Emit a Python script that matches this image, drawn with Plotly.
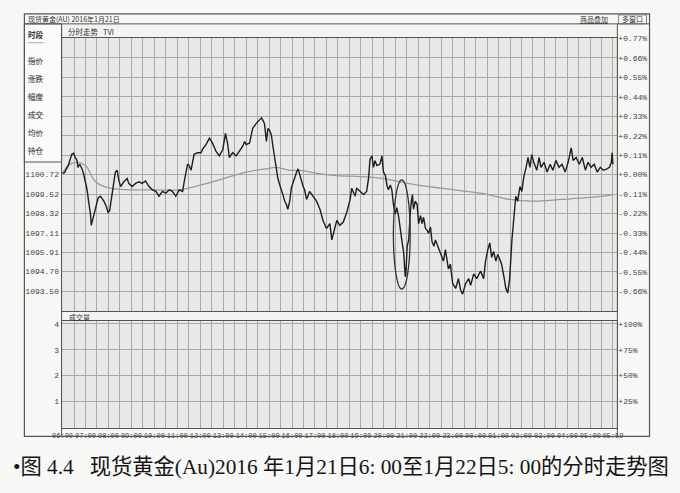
import plotly.graph_objects as go

W, H = 680, 493

# ---------------- data ----------------
minutes_since_0600 = [0, 5, 15, 24, 29, 33, 38, 40, 45, 51, 55, 60, 64, 68, 73, 75, 80, 86, 93, 99, 103, 108, 114, 119, 123, 128, 131, 138, 143, 147, 152, 160, 169, 173, 182, 191, 200, 208, 217, 226, 235, 244, 252, 261, 270, 279, 287, 296, 305, 314, 318, 322, 327, 331, 336, 344, 353, 362, 366, 375, 384, 392, 401, 410, 419, 426, 432, 436, 445, 454, 463, 471, 476, 480, 489, 493, 497, 506, 515, 520, 524, 528, 533, 537, 541, 546, 550, 555, 559, 563, 568, 572, 576, 581, 585, 589, 594, 598, 603, 612, 616, 620, 625, 629, 633, 638, 646, 655, 664, 673, 681, 690, 699, 704, 708, 712, 717, 725, 734, 743, 752, 756, 760, 765, 769, 778, 787, 795, 800, 804, 809, 813, 817, 822, 830, 835, 839, 844, 848, 852, 857, 861, 865, 870, 874, 879, 883, 887, 892, 894, 896, 898, 899, 901, 905, 907, 909, 912, 915, 916, 918, 922, 927, 931, 936, 940, 944, 949, 953, 957, 962, 966, 971, 975, 980, 988, 996, 1001, 1009, 1014, 1020, 1028, 1035, 1041, 1046, 1054, 1062, 1067, 1075, 1083, 1093, 1101, 1106, 1112, 1117, 1122, 1127, 1133, 1138, 1143, 1148, 1154, 1159, 1164, 1169, 1175, 1180, 1185, 1190, 1196, 1201, 1206, 1212, 1217, 1222, 1227, 1232, 1240, 1246, 1251, 1259, 1267, 1275, 1282, 1290, 1298, 1306, 1314, 1322, 1330, 1335, 1343, 1351, 1359, 1367, 1374, 1382, 1390, 1398, 1406, 1414, 1422, 1430, 1435, 1437, 1439]
price = [1100.80, 1100.84, 1101.30, 1101.99, 1102.05, 1101.79, 1101.61, 1101.17, 1101.37, 1101.08, 1100.78, 1100.28, 1099.80, 1099.07, 1098.27, 1097.57, 1098.07, 1098.67, 1099.27, 1099.38, 1099.27, 1099.07, 1098.77, 1098.37, 1098.47, 1099.27, 1099.98, 1100.88, 1100.99, 1100.38, 1099.98, 1100.28, 1100.48, 1100.18, 1099.98, 1100.18, 1100.28, 1100.18, 1100.33, 1099.98, 1099.78, 1099.68, 1099.38, 1099.68, 1099.57, 1099.78, 1099.68, 1099.38, 1099.78, 1099.68, 1100.28, 1100.88, 1101.38, 1101.29, 1101.00, 1101.99, 1102.09, 1102.09, 1102.29, 1102.59, 1102.99, 1102.69, 1102.19, 1101.89, 1102.29, 1103.29, 1102.59, 1101.79, 1102.09, 1101.89, 1102.19, 1102.49, 1102.79, 1102.59, 1102.69, 1103.29, 1103.60, 1103.90, 1104.10, 1104.26, 1104.10, 1103.90, 1102.79, 1103.60, 1103.49, 1103.19, 1102.49, 1101.79, 1101.29, 1100.48, 1100.08, 1099.68, 1099.48, 1099.07, 1098.88, 1098.57, 1099.07, 1099.88, 1100.28, 1100.88, 1101.08, 1100.68, 1100.18, 1099.98, 1099.78, 1099.18, 1099.68, 1099.38, 1099.07, 1098.57, 1097.87, 1097.37, 1097.67, 1096.66, 1097.07, 1097.37, 1097.87, 1097.57, 1097.77, 1098.37, 1099.18, 1099.88, 1099.68, 1099.38, 1099.88, 1099.68, 1099.48, 1099.68, 1100.48, 1101.69, 1101.89, 1101.18, 1101.59, 1101.29, 1101.38, 1101.89, 1100.88, 1100.68, 1100.08, 1099.78, 1100.08, 1099.78, 1098.88, 1098.27, 1098.67, 1098.07, 1097.26, 1096.66, 1095.86, 1094.85, 1094.37, 1094.73, 1095.15, 1096.26, 1096.66, 1097.67, 1098.27, 1099.07, 1099.48, 1098.97, 1098.57, 1099.07, 1098.88, 1097.67, 1098.17, 1097.67, 1098.07, 1097.37, 1097.26, 1097.07, 1097.46, 1096.56, 1096.26, 1096.66, 1096.36, 1095.76, 1095.34, 1096.06, 1094.85, 1095.15, 1093.95, 1093.65, 1094.25, 1093.53, 1093.29, 1093.95, 1094.25, 1093.83, 1094.55, 1094.25, 1094.73, 1094.25, 1095.34, 1096.06, 1096.48, 1095.58, 1095.94, 1095.34, 1095.76, 1095.46, 1095.15, 1094.37, 1093.65, 1093.35, 1094.25, 1096.66, 1098.17, 1099.38, 1099.07, 1099.98, 1099.68, 1100.58, 1101.18, 1101.79, 1101.18, 1101.97, 1101.49, 1101.00, 1101.79, 1101.18, 1101.49, 1100.88, 1101.37, 1101.00, 1101.61, 1101.18, 1101.37, 1100.88, 1101.49, 1102.39, 1101.61, 1101.79, 1101.37, 1101.79, 1101.00, 1101.49, 1101.18, 1101.37, 1100.88, 1101.18, 1101.00, 1101.06, 1101.18, 1101.49, 1102.09, 1101.37]

avg_minutes = [0, 15, 35, 60, 86, 123, 180, 240, 305, 392, 480, 533, 559, 594, 620, 673, 708, 795, 839, 901, 988, 1093, 1169, 1227, 1306, 1414, 1439]
avg_price = [1100.80, 1101.30, 1101.49, 1101.29, 1100.28, 1099.88, 1099.78, 1099.78, 1099.78, 1100.28, 1100.88, 1101.08, 1101.18, 1100.99, 1100.99, 1100.78, 1100.68, 1100.58, 1100.48, 1100.18, 1099.88, 1099.57, 1099.18, 1099.07, 1099.18, 1099.38, 1099.48]

base_price = 1100.72
time_labels = ["06:00", "07:00", "08:00", "09:00", "10:00", "11:00", "12:00", "13:00", "14:00", "15:00", "16:00", "17:00",
               "18:00", "19:00", "20:00", "21:00", "22:00", "23:00", "00:00", "01:00", "02:00", "03:00", "04:00", "05:00", "05:59"]
time_label_minutes = [0, 60, 120, 180, 240, 300, 360, 420, 480, 540, 600, 660, 720, 780, 840, 900, 960, 1020, 1080, 1140, 1200, 1260, 1320, 1380, 1439]
price_labels = ["1100.72", "1099.52", "1098.32", "1097.11", "1095.91", "1094.70", "1093.50"]
pct_values = [0.77, 0.66, 0.55, 0.44, 0.33, 0.22, 0.11, 0.00, -0.11, -0.22, -0.33, -0.44, -0.55, -0.66]
vol_ticks = [1, 2, 3, 4]
vol_pct_labels = ["+25%", "+50%", "+75%", "+100%"]
sidebar_items = ["时段", "指价", "涨跌", "幅度", "成交", "均价", "持仓"]
ellipse_minutes = (865, 909)
ellipse_prices = (1093.6, 1100.4)

# ---------------- helpers ----------------
# the photographed page shows a small horizontal offset/scale; compensate so marks land at target pixels
OFFX, SCX = 10.7, 0.973

def px(x):
    return ((x - OFFX) / SCX) / W

def py(y):
    return 1 - y / H

grid_col = "#a9a9a9"
frame_col = "#555555"
txt_col = "#333333"
mono = "Liberation Mono"
cjk = "Noto Sans CJK SC"

x_range = [-2.6, 1450.7]
p_range = [1092.23, 1109.24]
v_range = [-0.04, 4.11]

grid_vals, grid_text = [], []
for m in range(0, 1440, 30):
    grid_vals.append(m)
    grid_text.append(time_labels[m // 60] if m % 60 == 0 else "")
grid_vals.append(time_label_minutes[-1])
grid_text.append(time_labels[-1])

pct_text = [("+" if v >= 0 else "") + f"{v:.2f}%" for v in pct_values]
pct_price = [base_price * (1 + v / 100) for v in pct_values]

fig = go.Figure()
fig.add_trace(go.Scatter(x=avg_minutes, y=avg_price, mode="lines", line=dict(color="#9a9a9a", width=1.3, shape="spline"),
                         xaxis="x", yaxis="y", showlegend=False, hoverinfo="skip"))
fig.add_trace(go.Scatter(x=minutes_since_0600, y=price, mode="lines", line=dict(color="#1e1e1e", width=1.4),
                         xaxis="x", yaxis="y", showlegend=False))
fig.add_trace(go.Scatter(x=[None], y=[None], xaxis="x", yaxis="y3", showlegend=False, hoverinfo="skip"))
fig.add_trace(go.Scatter(x=[None], y=[None], xaxis="x2", yaxis="y2", showlegend=False, hoverinfo="skip"))
fig.add_trace(go.Scatter(x=[None], y=[None], xaxis="x2", yaxis="y4", showlegend=False, hoverinfo="skip"))

xdom = [px(63), px(616)]
main_dom = [py(310), py(35)]
vol_dom = [py(428), py(320)]

axis_common = dict(showline=True, linecolor=frame_col, linewidth=1, mirror=True, zeroline=False, ticks="")

fig.update_layout(
    width=W, height=H,
    margin=dict(l=0, r=0, t=0, b=0),
    paper_bgcolor="#f7f7f6",
    plot_bgcolor="#e8e8e6",
    showlegend=False,
    xaxis=dict(domain=xdom, range=x_range, anchor="y", tickmode="array", tickvals=grid_vals,
               showticklabels=False, showgrid=True, gridcolor=grid_col, gridwidth=1, **axis_common),
    yaxis=dict(domain=main_dom, range=p_range, anchor="x", tickmode="array",
               tickvals=[float(v) for v in price_labels], ticktext=price_labels, showgrid=False,
               tickfont=dict(family=mono, size=8, color="#444"), **axis_common),
    yaxis3=dict(overlaying="y", side="right", anchor="x", range=p_range, tickmode="array",
                tickvals=pct_price, ticktext=pct_text, showgrid=True, gridcolor=grid_col, gridwidth=1,
                tickfont=dict(family=mono, size=8, color="#444"), zeroline=False, ticks=""),
    xaxis2=dict(domain=xdom, range=x_range, anchor="y2", matches="x", tickmode="array", tickvals=grid_vals,
                ticktext=grid_text, showgrid=True, gridcolor=grid_col, gridwidth=1, tickangle=0,
                tickfont=dict(family=mono, size=7, color="#444"), **axis_common),
    yaxis2=dict(domain=vol_dom, range=v_range, anchor="x2", tickmode="array", tickvals=vol_ticks,
                ticktext=[str(v) for v in vol_ticks], showgrid=False,
                tickfont=dict(family=mono, size=8, color="#444"), **axis_common),
    yaxis4=dict(overlaying="y2", side="right", anchor="x2", range=v_range, tickmode="array",
                tickvals=vol_ticks, ticktext=vol_pct_labels, showgrid=True, gridcolor=grid_col, gridwidth=1,
                tickfont=dict(family=mono, size=8, color="#444"), zeroline=False, ticks=""),
)

shapes = []
def prect(x0, y0, x1, y1, fill=None, line=frame_col, lw=1, layer="above"):
    shapes.append(dict(type="rect", xref="paper", yref="paper", x0=px(x0), x1=px(x1), y0=py(y1), y1=py(y0),
                       fillcolor=fill if fill else "rgba(0,0,0,0)", line=dict(color=line, width=lw), layer=layer))

def pline(x0, y0, x1, y1, col=frame_col, lw=1):
    shapes.append(dict(type="line", xref="paper", yref="paper", x0=px(x0), x1=px(x1), y0=py(y0), y1=py(y1),
                       line=dict(color=col, width=lw)))

prect(63, 21, 616, 35, fill="#f3f3f2", line="rgba(0,0,0,0)", layer="below")
prect(63, 310, 616, 320, fill="#f3f3f2", line="rgba(0,0,0,0)", layer="below")
prect(26, 21, 63, 160, fill="#fafafa")
for i in range(len(sidebar_items)):
    yy = 40 + i * 18
    pline(29, yy, 45, yy, col="#999", lw=0.8)
prect(26, 11, 648, 436, lw=1.2)
pline(26, 21, 648, 21)
pline(63, 21, 63, 436)
pline(616, 21, 616, 436)
prect(617, 12, 645, 21, line="#666", lw=0.8)
shapes.append(dict(type="circle", xref="x", yref="y", x0=ellipse_minutes[0], x1=ellipse_minutes[1],
                   y0=ellipse_prices[0], y1=ellipse_prices[1], line=dict(color="#333", width=1.3)))
fig.update_layout(shapes=shapes)

ann = []
def ptext(x, y, s, size=8, anchor="left", family=cjk, color=txt_col, bold=False):
    ann.append(dict(x=px(x), y=py(y), xref="paper", yref="paper", text=("<b>%s</b>" % s) if bold else s,
                    showarrow=False, xanchor=anchor, yanchor="middle",
                    font=dict(family=family, size=size, color=color)))

ptext(28, 16, "现货黄金(AU) 2016年1月21日", size=7)
ptext(577, 16, "<u>商品叠加</u>", size=7)
ptext(631, 16.5, "多窗口", size=7, anchor="center")
ptext(67, 29, "分时走势   TVI", size=7.5)
ptext(68, 315.5, "成交量", size=7)
for i, s in enumerate(sidebar_items):
    ptext(28, 32 if i == 0 else 40 + i * 18, s, size=7.5, bold=(i == 0))
ptext(13, 467, "•图 4.4   现货黄金(Au)2016 年1月21日6: 00至1月22日5: 00的分时走势图", size=21.3,
      color="#151515", family="Liberation Serif, " + cjk)
fig.update_layout(annotations=ann)

page_fix = (
    "var d=document.getElementById('{plot_id}');"
    "var css='margin:0;padding:0;overflow:hidden;width:680px;height:493px;';"
    "document.documentElement.style.cssText=css;document.body.style.cssText=css;"
    "d.style.position='absolute';d.style.left='0px';d.style.top='0px';"
)
fig.write_html("out.html", config={"displayModeBar": False}, post_script=page_fix)
